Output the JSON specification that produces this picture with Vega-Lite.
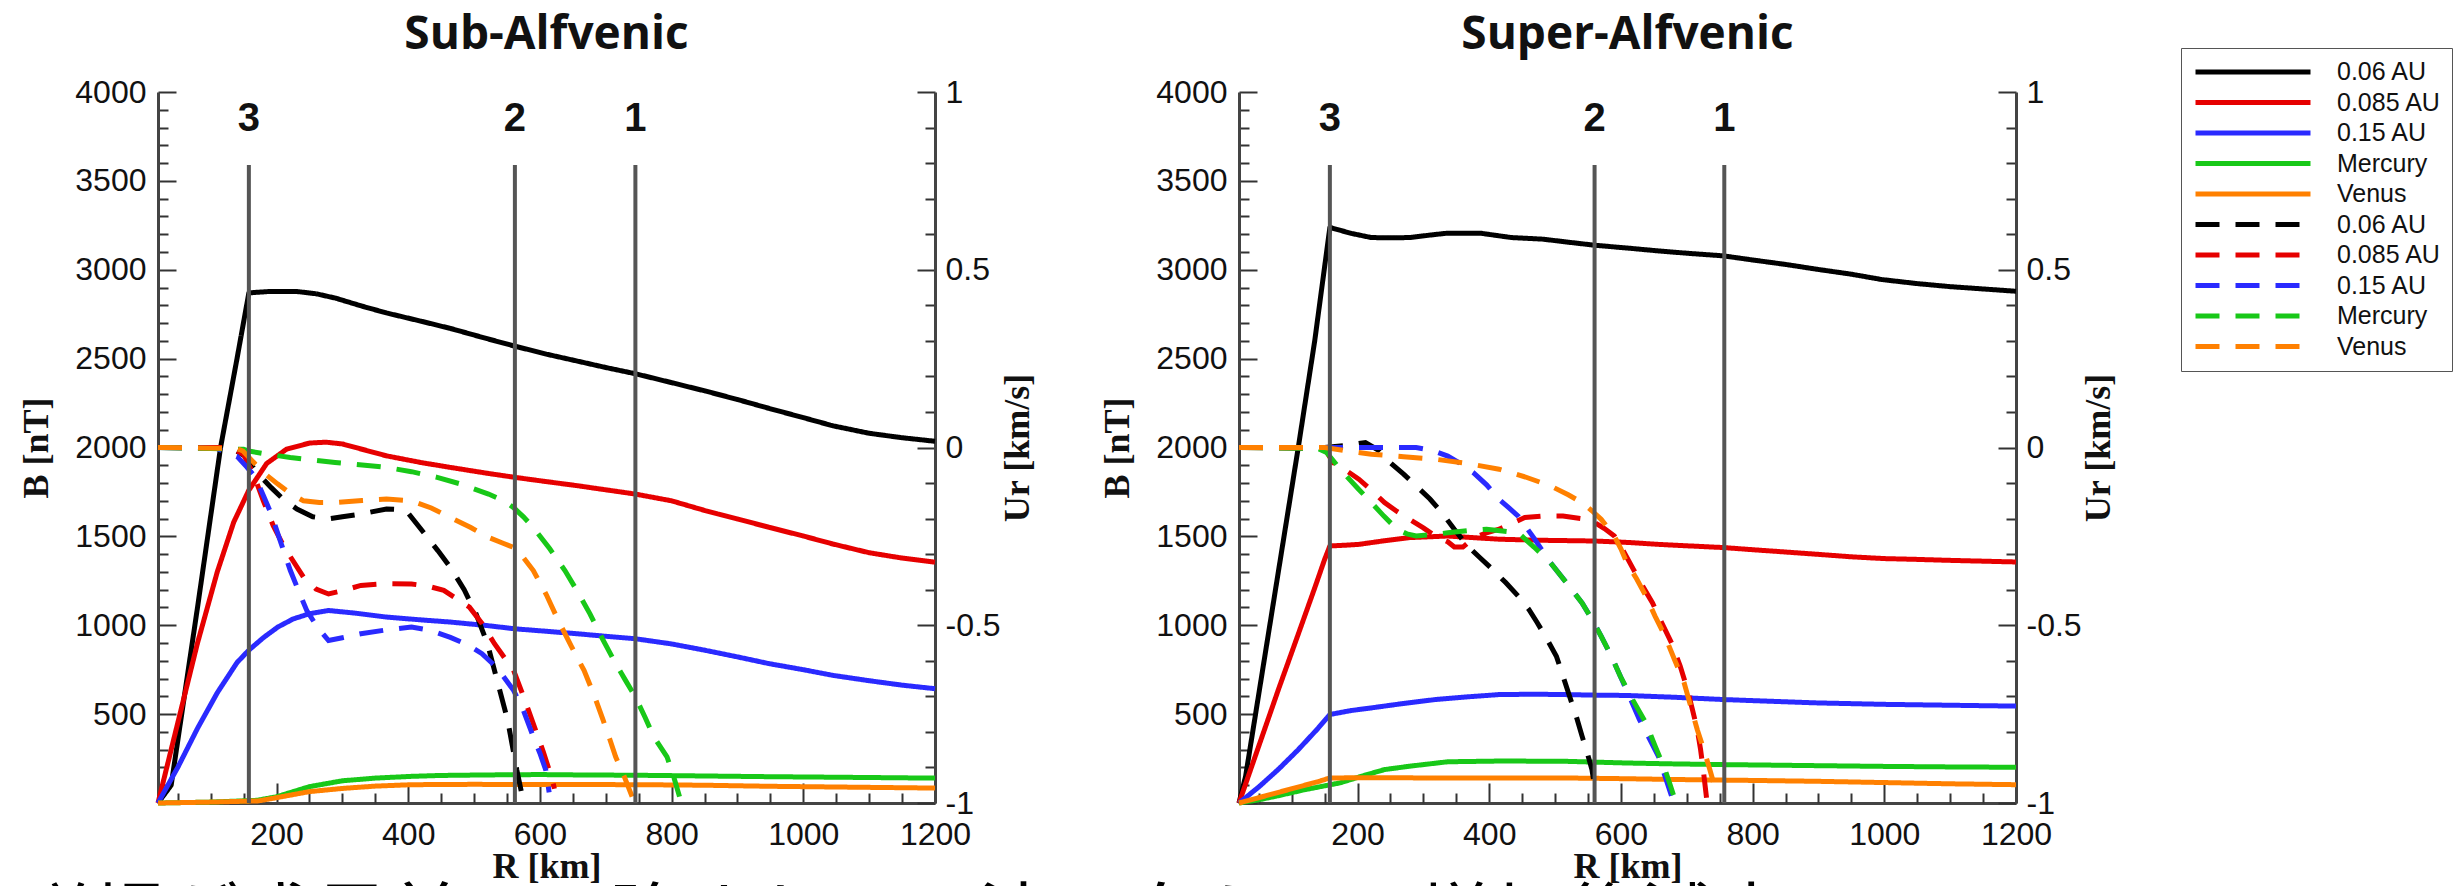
{
  "$schema": "https://vega.github.io/schema/vega-lite/v6.json",
  "background": "white",
  "padding": {"left": 18, "top": 12, "right": 5, "bottom": 0},
  "config": {
    "view": {"stroke": null},
    "font": "Liberation Sans",
    "axis": {"domainColor": "#444444", "domainWidth": 3, "tickColor": "#333333", "tickWidth": 2, "labelFont": "Liberation Sans", "labelFontSize": 32, "labelColor": "#111111", "titleFont": "Liberation Serif", "titleFontSize": 36, "titleFontWeight": "bold", "titleColor": "#111111", "grid": false, "labelOverlap": false, "labelFlush": false, "labelBound": false},
    "title": {"font": "Open Sans", "fontSize": 46, "fontWeight": "bold", "color": "#111111"}
  },
  "title": {"text": "磁場が惑星前面で強まり、下流に向かって増加後減少", "orient": "bottom", "anchor": "start", "frame": "bounds", "font": "Noto Sans CJK JP", "fontSize": 74, "fontWeight": "normal", "baseline": "top", "offset": 2, "color": "#000000"},
  "datasets": {
    "sub": [
      {"s":"B: 0.06 AU","R":20,"v":0},{"s":"B: 0.06 AU","R":40,"v":100},{"s":"B: 0.06 AU","R":80,"v":1100},{"s":"B: 0.06 AU","R":115,"v":2000},{"s":"B: 0.06 AU","R":140,"v":2500},{"s":"B: 0.06 AU","R":158,"v":2870},{"s":"B: 0.06 AU","R":190,"v":2878},{"s":"B: 0.06 AU","R":230,"v":2878},{"s":"B: 0.06 AU","R":260,"v":2865},{"s":"B: 0.06 AU","R":290,"v":2840},{"s":"B: 0.06 AU","R":330,"v":2795},{"s":"B: 0.06 AU","R":367,"v":2757},{"s":"B: 0.06 AU","R":420,"v":2710},{"s":"B: 0.06 AU","R":464,"v":2670},{"s":"B: 0.06 AU","R":520,"v":2612},{"s":"B: 0.06 AU","R":562,"v":2570},{"s":"B: 0.06 AU","R":610,"v":2525},{"s":"B: 0.06 AU","R":657,"v":2486},{"s":"B: 0.06 AU","R":700,"v":2450},{"s":"B: 0.06 AU","R":745,"v":2415},{"s":"B: 0.06 AU","R":800,"v":2365},{"s":"B: 0.06 AU","R":851,"v":2318},{"s":"B: 0.06 AU","R":900,"v":2270},{"s":"B: 0.06 AU","R":948,"v":2220},{"s":"B: 0.06 AU","R":1000,"v":2168},{"s":"B: 0.06 AU","R":1045,"v":2122},{"s":"B: 0.06 AU","R":1100,"v":2080},{"s":"B: 0.06 AU","R":1150,"v":2055},{"s":"B: 0.06 AU","R":1200,"v":2035},
      {"s":"B: 0.085 AU","R":20,"v":0},{"s":"B: 0.085 AU","R":50,"v":450},{"s":"B: 0.085 AU","R":80,"v":900},{"s":"B: 0.085 AU","R":110,"v":1300},{"s":"B: 0.085 AU","R":135,"v":1580},{"s":"B: 0.085 AU","R":158,"v":1760},{"s":"B: 0.085 AU","R":185,"v":1910},{"s":"B: 0.085 AU","R":215,"v":1990},{"s":"B: 0.085 AU","R":250,"v":2025},{"s":"B: 0.085 AU","R":275,"v":2030},{"s":"B: 0.085 AU","R":300,"v":2020},{"s":"B: 0.085 AU","R":340,"v":1980},{"s":"B: 0.085 AU","R":367,"v":1953},{"s":"B: 0.085 AU","R":420,"v":1915},{"s":"B: 0.085 AU","R":464,"v":1888},{"s":"B: 0.085 AU","R":520,"v":1855},{"s":"B: 0.085 AU","R":562,"v":1832},{"s":"B: 0.085 AU","R":610,"v":1808},{"s":"B: 0.085 AU","R":657,"v":1785},{"s":"B: 0.085 AU","R":700,"v":1762},{"s":"B: 0.085 AU","R":745,"v":1738},{"s":"B: 0.085 AU","R":800,"v":1700},{"s":"B: 0.085 AU","R":851,"v":1645},{"s":"B: 0.085 AU","R":900,"v":1598},{"s":"B: 0.085 AU","R":948,"v":1551},{"s":"B: 0.085 AU","R":1000,"v":1502},{"s":"B: 0.085 AU","R":1045,"v":1457},{"s":"B: 0.085 AU","R":1100,"v":1408},{"s":"B: 0.085 AU","R":1150,"v":1378},{"s":"B: 0.085 AU","R":1200,"v":1355},
      {"s":"B: 0.15 AU","R":20,"v":0},{"s":"B: 0.15 AU","R":50,"v":200},{"s":"B: 0.15 AU","R":80,"v":420},{"s":"B: 0.15 AU","R":110,"v":620},{"s":"B: 0.15 AU","R":140,"v":790},{"s":"B: 0.15 AU","R":158,"v":860},{"s":"B: 0.15 AU","R":180,"v":930},{"s":"B: 0.15 AU","R":202,"v":990},{"s":"B: 0.15 AU","R":225,"v":1035},{"s":"B: 0.15 AU","R":250,"v":1065},{"s":"B: 0.15 AU","R":279,"v":1083},{"s":"B: 0.15 AU","R":320,"v":1068},{"s":"B: 0.15 AU","R":367,"v":1046},{"s":"B: 0.15 AU","R":420,"v":1030},{"s":"B: 0.15 AU","R":464,"v":1018},{"s":"B: 0.15 AU","R":520,"v":998},{"s":"B: 0.15 AU","R":562,"v":980},{"s":"B: 0.15 AU","R":610,"v":966},{"s":"B: 0.15 AU","R":657,"v":952},{"s":"B: 0.15 AU","R":700,"v":938},{"s":"B: 0.15 AU","R":745,"v":924},{"s":"B: 0.15 AU","R":800,"v":895},{"s":"B: 0.15 AU","R":851,"v":859},{"s":"B: 0.15 AU","R":900,"v":822},{"s":"B: 0.15 AU","R":948,"v":784},{"s":"B: 0.15 AU","R":1000,"v":750},{"s":"B: 0.15 AU","R":1045,"v":718},{"s":"B: 0.15 AU","R":1100,"v":688},{"s":"B: 0.15 AU","R":1150,"v":663},{"s":"B: 0.15 AU","R":1200,"v":643},
      {"s":"B: Mercury","R":20,"v":0},{"s":"B: Mercury","R":100,"v":5},{"s":"B: Mercury","R":170,"v":15},{"s":"B: Mercury","R":200,"v":35},{"s":"B: Mercury","R":250,"v":92},{"s":"B: Mercury","R":300,"v":125},{"s":"B: Mercury","R":350,"v":140},{"s":"B: Mercury","R":405,"v":150},{"s":"B: Mercury","R":450,"v":155},{"s":"B: Mercury","R":522,"v":158},{"s":"B: Mercury","R":600,"v":160},{"s":"B: Mercury","R":657,"v":158},{"s":"B: Mercury","R":750,"v":156},{"s":"B: Mercury","R":851,"v":152},{"s":"B: Mercury","R":950,"v":148},{"s":"B: Mercury","R":1050,"v":145},{"s":"B: Mercury","R":1200,"v":140},
      {"s":"B: Venus","R":20,"v":0},{"s":"B: Venus","R":100,"v":5},{"s":"B: Venus","R":173,"v":12},{"s":"B: Venus","R":200,"v":30},{"s":"B: Venus","R":250,"v":64},{"s":"B: Venus","R":300,"v":82},{"s":"B: Venus","R":350,"v":95},{"s":"B: Venus","R":405,"v":103},{"s":"B: Venus","R":500,"v":105},{"s":"B: Venus","R":560,"v":104},{"s":"B: Venus","R":650,"v":104},{"s":"B: Venus","R":754,"v":103},{"s":"B: Venus","R":850,"v":100},{"s":"B: Venus","R":948,"v":94},{"s":"B: Venus","R":1050,"v":90},{"s":"B: Venus","R":1200,"v":84},
      {"s":"Ur: 0.06 AU","R":20,"v":0},{"s":"Ur: 0.06 AU","R":130,"v":0},{"s":"Ur: 0.06 AU","R":153,"v":-0.025},{"s":"Ur: 0.06 AU","R":170,"v":-0.07},{"s":"Ur: 0.06 AU","R":192,"v":-0.113},{"s":"Ur: 0.06 AU","R":210,"v":-0.145},{"s":"Ur: 0.06 AU","R":231,"v":-0.173},{"s":"Ur: 0.06 AU","R":255,"v":-0.195},{"s":"Ur: 0.06 AU","R":279,"v":-0.201},{"s":"Ur: 0.06 AU","R":300,"v":-0.195},{"s":"Ur: 0.06 AU","R":328,"v":-0.187},{"s":"Ur: 0.06 AU","R":367,"v":-0.173},{"s":"Ur: 0.06 AU","R":390,"v":-0.175},{"s":"Ur: 0.06 AU","R":401,"v":-0.187},{"s":"Ur: 0.06 AU","R":425,"v":-0.243},{"s":"Ur: 0.06 AU","R":445,"v":-0.29},{"s":"Ur: 0.06 AU","R":464,"v":-0.337},{"s":"Ur: 0.06 AU","R":485,"v":-0.4},{"s":"Ur: 0.06 AU","R":503,"v":-0.468},{"s":"Ur: 0.06 AU","R":520,"v":-0.55},{"s":"Ur: 0.06 AU","R":531,"v":-0.627},{"s":"Ur: 0.06 AU","R":551,"v":-0.767},{"s":"Ur: 0.06 AU","R":565,"v":-0.908},{"s":"Ur: 0.06 AU","R":572,"v":-0.97},
      {"s":"Ur: 0.085 AU","R":20,"v":0},{"s":"Ur: 0.085 AU","R":130,"v":0},{"s":"Ur: 0.085 AU","R":150,"v":-0.02},{"s":"Ur: 0.085 AU","R":165,"v":-0.075},{"s":"Ur: 0.085 AU","R":180,"v":-0.15},{"s":"Ur: 0.085 AU","R":195,"v":-0.22},{"s":"Ur: 0.085 AU","R":212,"v":-0.281},{"s":"Ur: 0.085 AU","R":241,"v":-0.365},{"s":"Ur: 0.085 AU","R":260,"v":-0.398},{"s":"Ur: 0.085 AU","R":279,"v":-0.412},{"s":"Ur: 0.085 AU","R":300,"v":-0.403},{"s":"Ur: 0.085 AU","R":328,"v":-0.388},{"s":"Ur: 0.085 AU","R":367,"v":-0.383},{"s":"Ur: 0.085 AU","R":405,"v":-0.384},{"s":"Ur: 0.085 AU","R":430,"v":-0.39},{"s":"Ur: 0.085 AU","R":454,"v":-0.402},{"s":"Ur: 0.085 AU","R":493,"v":-0.449},{"s":"Ur: 0.085 AU","R":512,"v":-0.495},{"s":"Ur: 0.085 AU","R":531,"v":-0.552},{"s":"Ur: 0.085 AU","R":560,"v":-0.627},{"s":"Ur: 0.085 AU","R":575,"v":-0.7},{"s":"Ur: 0.085 AU","R":590,"v":-0.777},{"s":"Ur: 0.085 AU","R":605,"v":-0.855},{"s":"Ur: 0.085 AU","R":619,"v":-0.936},{"s":"Ur: 0.085 AU","R":622,"v":-0.96},
      {"s":"Ur: 0.15 AU","R":20,"v":0},{"s":"Ur: 0.15 AU","R":110,"v":-0.003},{"s":"Ur: 0.15 AU","R":140,"v":-0.025},{"s":"Ur: 0.15 AU","R":155,"v":-0.055},{"s":"Ur: 0.15 AU","R":168,"v":-0.084},{"s":"Ur: 0.15 AU","R":180,"v":-0.135},{"s":"Ur: 0.15 AU","R":192,"v":-0.187},{"s":"Ur: 0.15 AU","R":207,"v":-0.27},{"s":"Ur: 0.15 AU","R":221,"v":-0.346},{"s":"Ur: 0.15 AU","R":235,"v":-0.41},{"s":"Ur: 0.15 AU","R":246,"v":-0.459},{"s":"Ur: 0.15 AU","R":262,"v":-0.505},{"s":"Ur: 0.15 AU","R":279,"v":-0.543},{"s":"Ur: 0.15 AU","R":300,"v":-0.535},{"s":"Ur: 0.15 AU","R":328,"v":-0.524},{"s":"Ur: 0.15 AU","R":367,"v":-0.513},{"s":"Ur: 0.15 AU","R":405,"v":-0.505},{"s":"Ur: 0.15 AU","R":435,"v":-0.515},{"s":"Ur: 0.15 AU","R":464,"v":-0.534},{"s":"Ur: 0.15 AU","R":490,"v":-0.555},{"s":"Ur: 0.15 AU","R":512,"v":-0.58},{"s":"Ur: 0.15 AU","R":535,"v":-0.62},{"s":"Ur: 0.15 AU","R":560,"v":-0.683},{"s":"Ur: 0.15 AU","R":575,"v":-0.74},{"s":"Ur: 0.15 AU","R":590,"v":-0.814},{"s":"Ur: 0.15 AU","R":600,"v":-0.86},{"s":"Ur: 0.15 AU","R":609,"v":-0.908},{"s":"Ur: 0.15 AU","R":614,"v":-0.97},
      {"s":"Ur: Mercury","R":20,"v":0},{"s":"Ur: Mercury","R":150,"v":-0.005},{"s":"Ur: Mercury","R":158,"v":-0.01},{"s":"Ur: Mercury","R":190,"v":-0.02},{"s":"Ur: Mercury","R":221,"v":-0.028},{"s":"Ur: Mercury","R":260,"v":-0.036},{"s":"Ur: Mercury","R":289,"v":-0.042},{"s":"Ur: Mercury","R":330,"v":-0.049},{"s":"Ur: Mercury","R":367,"v":-0.056},{"s":"Ur: Mercury","R":405,"v":-0.068},{"s":"Ur: Mercury","R":444,"v":-0.084},{"s":"Ur: Mercury","R":480,"v":-0.103},{"s":"Ur: Mercury","R":522,"v":-0.131},{"s":"Ur: Mercury","R":545,"v":-0.15},{"s":"Ur: Mercury","R":560,"v":-0.169},{"s":"Ur: Mercury","R":575,"v":-0.195},{"s":"Ur: Mercury","R":590,"v":-0.225},{"s":"Ur: Mercury","R":615,"v":-0.285},{"s":"Ur: Mercury","R":638,"v":-0.346},{"s":"Ur: Mercury","R":657,"v":-0.405},{"s":"Ur: Mercury","R":676,"v":-0.468},{"s":"Ur: Mercury","R":695,"v":-0.538},{"s":"Ur: Mercury","R":715,"v":-0.608},{"s":"Ur: Mercury","R":730,"v":-0.655},{"s":"Ur: Mercury","R":745,"v":-0.702},{"s":"Ur: Mercury","R":760,"v":-0.76},{"s":"Ur: Mercury","R":773,"v":-0.814},{"s":"Ur: Mercury","R":793,"v":-0.87},{"s":"Ur: Mercury","R":803,"v":-0.925},{"s":"Ur: Mercury","R":812,"v":-0.982},
      {"s":"Ur: Venus","R":20,"v":0},{"s":"Ur: Venus","R":140,"v":-0.003},{"s":"Ur: Venus","R":149,"v":-0.01},{"s":"Ur: Venus","R":168,"v":-0.047},{"s":"Ur: Venus","R":185,"v":-0.078},{"s":"Ur: Venus","R":202,"v":-0.103},{"s":"Ur: Venus","R":220,"v":-0.128},{"s":"Ur: Venus","R":241,"v":-0.15},{"s":"Ur: Venus","R":265,"v":-0.155},{"s":"Ur: Venus","R":289,"v":-0.155},{"s":"Ur: Venus","R":330,"v":-0.149},{"s":"Ur: Venus","R":367,"v":-0.145},{"s":"Ur: Venus","R":405,"v":-0.15},{"s":"Ur: Venus","R":435,"v":-0.17},{"s":"Ur: Venus","R":464,"v":-0.197},{"s":"Ur: Venus","R":495,"v":-0.225},{"s":"Ur: Venus","R":522,"v":-0.253},{"s":"Ur: Venus","R":545,"v":-0.27},{"s":"Ur: Venus","R":560,"v":-0.281},{"s":"Ur: Venus","R":575,"v":-0.31},{"s":"Ur: Venus","R":590,"v":-0.346},{"s":"Ur: Venus","R":610,"v":-0.415},{"s":"Ur: Venus","R":628,"v":-0.487},{"s":"Ur: Venus","R":648,"v":-0.56},{"s":"Ur: Venus","R":667,"v":-0.627},{"s":"Ur: Venus","R":682,"v":-0.695},{"s":"Ur: Venus","R":696,"v":-0.767},{"s":"Ur: Venus","R":706,"v":-0.82},{"s":"Ur: Venus","R":715,"v":-0.87},{"s":"Ur: Venus","R":728,"v":-0.925},{"s":"Ur: Venus","R":740,"v":-0.982}
    ],
    "super": [
      {"s":"B: 0.06 AU","R":20,"v":0},{"s":"B: 0.06 AU","R":30,"v":150},{"s":"B: 0.06 AU","R":110,"v":2000},{"s":"B: 0.06 AU","R":135,"v":2600},{"s":"B: 0.06 AU","R":158,"v":3238},{"s":"B: 0.06 AU","R":190,"v":3205},{"s":"B: 0.06 AU","R":221,"v":3181},{"s":"B: 0.06 AU","R":250,"v":3180},{"s":"B: 0.06 AU","R":279,"v":3181},{"s":"B: 0.06 AU","R":310,"v":3195},{"s":"B: 0.06 AU","R":337,"v":3206},{"s":"B: 0.06 AU","R":386,"v":3206},{"s":"B: 0.06 AU","R":434,"v":3181},{"s":"B: 0.06 AU","R":482,"v":3172},{"s":"B: 0.06 AU","R":520,"v":3155},{"s":"B: 0.06 AU","R":560,"v":3138},{"s":"B: 0.06 AU","R":610,"v":3122},{"s":"B: 0.06 AU","R":657,"v":3106},{"s":"B: 0.06 AU","R":700,"v":3093},{"s":"B: 0.06 AU","R":756,"v":3078},{"s":"B: 0.06 AU","R":800,"v":3055},{"s":"B: 0.06 AU","R":850,"v":3030},{"s":"B: 0.06 AU","R":899,"v":3002},{"s":"B: 0.06 AU","R":950,"v":2975},{"s":"B: 0.06 AU","R":996,"v":2945},{"s":"B: 0.06 AU","R":1050,"v":2922},{"s":"B: 0.06 AU","R":1100,"v":2905},{"s":"B: 0.06 AU","R":1150,"v":2892},{"s":"B: 0.06 AU","R":1200,"v":2879},
      {"s":"B: 0.085 AU","R":20,"v":0},{"s":"B: 0.085 AU","R":50,"v":320},{"s":"B: 0.085 AU","R":80,"v":640},{"s":"B: 0.085 AU","R":110,"v":950},{"s":"B: 0.085 AU","R":135,"v":1210},{"s":"B: 0.085 AU","R":150,"v":1370},{"s":"B: 0.085 AU","R":158,"v":1446},{"s":"B: 0.085 AU","R":180,"v":1450},{"s":"B: 0.085 AU","R":202,"v":1455},{"s":"B: 0.085 AU","R":240,"v":1475},{"s":"B: 0.085 AU","R":279,"v":1493},{"s":"B: 0.085 AU","R":337,"v":1502},{"s":"B: 0.085 AU","R":415,"v":1484},{"s":"B: 0.085 AU","R":480,"v":1478},{"s":"B: 0.085 AU","R":560,"v":1474},{"s":"B: 0.085 AU","R":610,"v":1466},{"s":"B: 0.085 AU","R":657,"v":1455},{"s":"B: 0.085 AU","R":700,"v":1447},{"s":"B: 0.085 AU","R":756,"v":1437},{"s":"B: 0.085 AU","R":800,"v":1425},{"s":"B: 0.085 AU","R":850,"v":1412},{"s":"B: 0.085 AU","R":899,"v":1399},{"s":"B: 0.085 AU","R":950,"v":1385},{"s":"B: 0.085 AU","R":1000,"v":1375},{"s":"B: 0.085 AU","R":1045,"v":1371},{"s":"B: 0.085 AU","R":1100,"v":1365},{"s":"B: 0.085 AU","R":1200,"v":1356},
      {"s":"B: 0.15 AU","R":20,"v":0},{"s":"B: 0.15 AU","R":50,"v":90},{"s":"B: 0.15 AU","R":80,"v":190},{"s":"B: 0.15 AU","R":110,"v":300},{"s":"B: 0.15 AU","R":140,"v":420},{"s":"B: 0.15 AU","R":158,"v":498},{"s":"B: 0.15 AU","R":190,"v":520},{"s":"B: 0.15 AU","R":221,"v":535},{"s":"B: 0.15 AU","R":270,"v":560},{"s":"B: 0.15 AU","R":318,"v":582},{"s":"B: 0.15 AU","R":370,"v":598},{"s":"B: 0.15 AU","R":415,"v":610},{"s":"B: 0.15 AU","R":470,"v":612},{"s":"B: 0.15 AU","R":512,"v":610},{"s":"B: 0.15 AU","R":560,"v":607},{"s":"B: 0.15 AU","R":609,"v":605},{"s":"B: 0.15 AU","R":680,"v":595},{"s":"B: 0.15 AU","R":756,"v":582},{"s":"B: 0.15 AU","R":830,"v":572},{"s":"B: 0.15 AU","R":899,"v":563},{"s":"B: 0.15 AU","R":1000,"v":555},{"s":"B: 0.15 AU","R":1100,"v":550},{"s":"B: 0.15 AU","R":1200,"v":545},
      {"s":"B: Mercury","R":20,"v":0},{"s":"B: Mercury","R":50,"v":18},{"s":"B: Mercury","R":76,"v":38},{"s":"B: Mercury","R":120,"v":75},{"s":"B: Mercury","R":173,"v":113},{"s":"B: Mercury","R":210,"v":155},{"s":"B: Mercury","R":241,"v":188},{"s":"B: Mercury","R":279,"v":207},{"s":"B: Mercury","R":337,"v":232},{"s":"B: Mercury","R":415,"v":236},{"s":"B: Mercury","R":512,"v":235},{"s":"B: Mercury","R":609,"v":225},{"s":"B: Mercury","R":680,"v":220},{"s":"B: Mercury","R":756,"v":216},{"s":"B: Mercury","R":830,"v":213},{"s":"B: Mercury","R":899,"v":210},{"s":"B: Mercury","R":1000,"v":206},{"s":"B: Mercury","R":1100,"v":203},{"s":"B: Mercury","R":1200,"v":201},
      {"s":"B: Venus","R":20,"v":0},{"s":"B: Venus","R":60,"v":40},{"s":"B: Venus","R":100,"v":80},{"s":"B: Venus","R":140,"v":120},{"s":"B: Venus","R":158,"v":141},{"s":"B: Venus","R":220,"v":142},{"s":"B: Venus","R":318,"v":141},{"s":"B: Venus","R":420,"v":140},{"s":"B: Venus","R":512,"v":141},{"s":"B: Venus","R":600,"v":137},{"s":"B: Venus","R":706,"v":131},{"s":"B: Venus","R":800,"v":127},{"s":"B: Venus","R":899,"v":122},{"s":"B: Venus","R":1000,"v":115},{"s":"B: Venus","R":1100,"v":108},{"s":"B: Venus","R":1200,"v":103},
      {"s":"Ur: 0.06 AU","R":20,"v":0},{"s":"Ur: 0.06 AU","R":150,"v":0},{"s":"Ur: 0.06 AU","R":180,"v":0.005},{"s":"Ur: 0.06 AU","R":212,"v":0.014},{"s":"Ur: 0.06 AU","R":232,"v":-0.008},{"s":"Ur: 0.06 AU","R":250,"v":-0.043},{"s":"Ur: 0.06 AU","R":270,"v":-0.075},{"s":"Ur: 0.06 AU","R":289,"v":-0.108},{"s":"Ur: 0.06 AU","R":310,"v":-0.145},{"s":"Ur: 0.06 AU","R":328,"v":-0.183},{"s":"Ur: 0.06 AU","R":347,"v":-0.23},{"s":"Ur: 0.06 AU","R":367,"v":-0.277},{"s":"Ur: 0.06 AU","R":386,"v":-0.31},{"s":"Ur: 0.06 AU","R":405,"v":-0.343},{"s":"Ur: 0.06 AU","R":425,"v":-0.38},{"s":"Ur: 0.06 AU","R":444,"v":-0.418},{"s":"Ur: 0.06 AU","R":460,"v":-0.455},{"s":"Ur: 0.06 AU","R":473,"v":-0.493},{"s":"Ur: 0.06 AU","R":488,"v":-0.54},{"s":"Ur: 0.06 AU","R":502,"v":-0.587},{"s":"Ur: 0.06 AU","R":512,"v":-0.643},{"s":"Ur: 0.06 AU","R":522,"v":-0.7},{"s":"Ur: 0.06 AU","R":532,"v":-0.755},{"s":"Ur: 0.06 AU","R":541,"v":-0.812},{"s":"Ur: 0.06 AU","R":549,"v":-0.86},{"s":"Ur: 0.06 AU","R":556,"v":-0.906},{"s":"Ur: 0.06 AU","R":560,"v":-0.953},
      {"s":"Ur: 0.085 AU","R":20,"v":0},{"s":"Ur: 0.085 AU","R":150,"v":-0.003},{"s":"Ur: 0.085 AU","R":163,"v":-0.043},{"s":"Ur: 0.085 AU","R":183,"v":-0.065},{"s":"Ur: 0.085 AU","R":202,"v":-0.089},{"s":"Ur: 0.085 AU","R":221,"v":-0.12},{"s":"Ur: 0.085 AU","R":241,"v":-0.155},{"s":"Ur: 0.085 AU","R":260,"v":-0.18},{"s":"Ur: 0.085 AU","R":279,"v":-0.202},{"s":"Ur: 0.085 AU","R":300,"v":-0.226},{"s":"Ur: 0.085 AU","R":318,"v":-0.249},{"s":"Ur: 0.085 AU","R":337,"v":-0.265},{"s":"Ur: 0.085 AU","R":347,"v":-0.28},{"s":"Ur: 0.085 AU","R":360,"v":-0.28},{"s":"Ur: 0.085 AU","R":376,"v":-0.255},{"s":"Ur: 0.085 AU","R":396,"v":-0.24},{"s":"Ur: 0.085 AU","R":415,"v":-0.23},{"s":"Ur: 0.085 AU","R":435,"v":-0.213},{"s":"Ur: 0.085 AU","R":454,"v":-0.197},{"s":"Ur: 0.085 AU","R":480,"v":-0.193},{"s":"Ur: 0.085 AU","R":512,"v":-0.193},{"s":"Ur: 0.085 AU","R":540,"v":-0.2},{"s":"Ur: 0.085 AU","R":560,"v":-0.211},{"s":"Ur: 0.085 AU","R":575,"v":-0.228},{"s":"Ur: 0.085 AU","R":590,"v":-0.249},{"s":"Ur: 0.085 AU","R":605,"v":-0.295},{"s":"Ur: 0.085 AU","R":619,"v":-0.343},{"s":"Ur: 0.085 AU","R":633,"v":-0.39},{"s":"Ur: 0.085 AU","R":648,"v":-0.437},{"s":"Ur: 0.085 AU","R":662,"v":-0.493},{"s":"Ur: 0.085 AU","R":677,"v":-0.55},{"s":"Ur: 0.085 AU","R":690,"v":-0.615},{"s":"Ur: 0.085 AU","R":701,"v":-0.681},{"s":"Ur: 0.085 AU","R":709,"v":-0.74},{"s":"Ur: 0.085 AU","R":716,"v":-0.794},{"s":"Ur: 0.085 AU","R":721,"v":-0.85},{"s":"Ur: 0.085 AU","R":725,"v":-0.906},{"s":"Ur: 0.085 AU","R":730,"v":-0.985},
      {"s":"Ur: 0.15 AU","R":20,"v":0},{"s":"Ur: 0.15 AU","R":250,"v":0},{"s":"Ur: 0.15 AU","R":289,"v":0},{"s":"Ur: 0.15 AU","R":313,"v":-0.008},{"s":"Ur: 0.15 AU","R":337,"v":-0.024},{"s":"Ur: 0.15 AU","R":356,"v":-0.045},{"s":"Ur: 0.15 AU","R":376,"v":-0.071},{"s":"Ur: 0.15 AU","R":396,"v":-0.105},{"s":"Ur: 0.15 AU","R":415,"v":-0.146},{"s":"Ur: 0.15 AU","R":430,"v":-0.17},{"s":"Ur: 0.15 AU","R":444,"v":-0.193},{"s":"Ur: 0.15 AU","R":468,"v":-0.255},{"s":"Ur: 0.15 AU","R":493,"v":-0.324},{"s":"Ur: 0.15 AU","R":517,"v":-0.38},{"s":"Ur: 0.15 AU","R":541,"v":-0.437},{"s":"Ur: 0.15 AU","R":556,"v":-0.483},{"s":"Ur: 0.15 AU","R":570,"v":-0.531},{"s":"Ur: 0.15 AU","R":585,"v":-0.585},{"s":"Ur: 0.15 AU","R":599,"v":-0.643},{"s":"Ur: 0.15 AU","R":614,"v":-0.705},{"s":"Ur: 0.15 AU","R":628,"v":-0.765},{"s":"Ur: 0.15 AU","R":643,"v":-0.818},{"s":"Ur: 0.15 AU","R":657,"v":-0.869},{"s":"Ur: 0.15 AU","R":667,"v":-0.925},{"s":"Ur: 0.15 AU","R":677,"v":-0.981},
      {"s":"Ur: Mercury","R":20,"v":0},{"s":"Ur: Mercury","R":140,"v":-0.003},{"s":"Ur: Mercury","R":153,"v":-0.014},{"s":"Ur: Mercury","R":168,"v":-0.048},{"s":"Ur: Mercury","R":183,"v":-0.08},{"s":"Ur: Mercury","R":202,"v":-0.118},{"s":"Ur: Mercury","R":221,"v":-0.155},{"s":"Ur: Mercury","R":240,"v":-0.193},{"s":"Ur: Mercury","R":260,"v":-0.23},{"s":"Ur: Mercury","R":275,"v":-0.243},{"s":"Ur: Mercury","R":289,"v":-0.249},{"s":"Ur: Mercury","R":313,"v":-0.245},{"s":"Ur: Mercury","R":337,"v":-0.24},{"s":"Ur: Mercury","R":366,"v":-0.234},{"s":"Ur: Mercury","R":396,"v":-0.23},{"s":"Ur: Mercury","R":420,"v":-0.235},{"s":"Ur: Mercury","R":444,"v":-0.24},{"s":"Ur: Mercury","R":468,"v":-0.28},{"s":"Ur: Mercury","R":493,"v":-0.324},{"s":"Ur: Mercury","R":517,"v":-0.38},{"s":"Ur: Mercury","R":541,"v":-0.437},{"s":"Ur: Mercury","R":556,"v":-0.483},{"s":"Ur: Mercury","R":570,"v":-0.531},{"s":"Ur: Mercury","R":585,"v":-0.585},{"s":"Ur: Mercury","R":599,"v":-0.643},{"s":"Ur: Mercury","R":618,"v":-0.71},{"s":"Ur: Mercury","R":638,"v":-0.775},{"s":"Ur: Mercury","R":652,"v":-0.84},{"s":"Ur: Mercury","R":667,"v":-0.906},{"s":"Ur: Mercury","R":675,"v":-0.95},{"s":"Ur: Mercury","R":682,"v":-0.99},
      {"s":"Ur: Venus","R":20,"v":0},{"s":"Ur: Venus","R":150,"v":0},{"s":"Ur: Venus","R":185,"v":-0.01},{"s":"Ur: Venus","R":221,"v":-0.019},{"s":"Ur: Venus","R":270,"v":-0.026},{"s":"Ur: Venus","R":318,"v":-0.033},{"s":"Ur: Venus","R":367,"v":-0.045},{"s":"Ur: Venus","R":415,"v":-0.061},{"s":"Ur: Venus","R":455,"v":-0.083},{"s":"Ur: Venus","R":493,"v":-0.108},{"s":"Ur: Venus","R":520,"v":-0.133},{"s":"Ur: Venus","R":541,"v":-0.155},{"s":"Ur: Venus","R":556,"v":-0.178},{"s":"Ur: Venus","R":570,"v":-0.202},{"s":"Ur: Venus","R":580,"v":-0.225},{"s":"Ur: Venus","R":590,"v":-0.249},{"s":"Ur: Venus","R":600,"v":-0.285},{"s":"Ur: Venus","R":609,"v":-0.324},{"s":"Ur: Venus","R":624,"v":-0.37},{"s":"Ur: Venus","R":638,"v":-0.418},{"s":"Ur: Venus","R":652,"v":-0.475},{"s":"Ur: Venus","R":667,"v":-0.531},{"s":"Ur: Venus","R":681,"v":-0.595},{"s":"Ur: Venus","R":696,"v":-0.662},{"s":"Ur: Venus","R":706,"v":-0.728},{"s":"Ur: Venus","R":716,"v":-0.794},{"s":"Ur: Venus","R":726,"v":-0.85},{"s":"Ur: Venus","R":735,"v":-0.906},{"s":"Ur: Venus","R":741,"v":-0.945},{"s":"Ur: Venus","R":745,"v":-0.981}
    ],
    "subMarks": [{"label":"3","R":158},{"label":"2","R":562},{"label":"1","R":745}],
    "superMarks": [{"label":"3","R":158},{"label":"2","R":560},{"label":"1","R":757}]
  },
  "spacing": 63,
  "resolve": {"scale": {"color": "shared", "strokeDash": "shared"}},
  "hconcat": [
    {
      "title": {"text": "Sub-Alfvenic", "baseline": "alphabetic", "offset": -19, "frame": "group"},
      "width": 777, "height": 711,
      "layer": [
        {
          "data": {"name": "sub"},
          "transform": [{"filter": "indexof(datum.s, 'B:') === 0"}],
          "mark": {"type": "line", "strokeWidth": 5, "strokeJoin": "round"},
          "encoding": {
            "x": {"field": "R", "type": "quantitative", "scale": {"domain": [20, 1200], "nice": false, "zero": false},
              "axis": {"title": "R [km]", "orient": "bottom", "labelOverlap": false, "values": [200,400,600,800,1000,1200], "format": "d", "tickSize": -20, "labelPadding": 36, "titlePadding": -1}},
            "y": {"field": "v", "type": "quantitative", "scale": {"domain": [0, 4000], "nice": false, "zero": false},
              "axis": {"title": "B [nT]", "orient": "left", "labelOverlap": false, "values": [0,100,200,300,400,500,600,700,800,900,1000,1100,1200,1300,1400,1500,1600,1700,1800,1900,2000,2100,2200,2300,2400,2500,2600,2700,2800,2900,3000,3100,3200,3300,3400,3500,3600,3700,3800,3900,4000], "tickSize": {"condition": {"test": "datum.value % 500 === 0", "value": -18}, "value": -10}, "labelExpr": "datum.value % 500 === 0 && datum.value > 0 ? '' + datum.value : ''", "labelPadding": {"condition": {"test": "datum.value % 500 === 0", "value": 30}, "value": 22}, "titlePadding": 19}},
            "color": {"field": "s", "type": "nominal", "scale": {"domain": ["B: 0.06 AU","B: 0.085 AU","B: 0.15 AU","B: Mercury","B: Venus","Ur: 0.06 AU","Ur: 0.085 AU","Ur: 0.15 AU","Ur: Mercury","Ur: Venus"], "range": ["#000000","#e60000","#2a2aff","#18c818","#ff8000","#000000","#e60000","#2a2aff","#18c818","#ff8000"]},
              "legend": {"title": null, "orient": "none", "legendX": 2023, "legendY": -44, "symbolType": "stroke", "symbolSize": 13225, "symbolStrokeWidth": 5, "clipHeight": 28, "rowPadding": 2.5, "labelFont": "Liberation Sans", "labelFontSize": 25, "labelColor": "#111111", "labelOffset": 24, "labelLimit": 300, "labelExpr": "split(datum.label, ': ')[1]", "padding": 10, "symbolOffset": 2, "strokeColor": "#555555", "fillColor": "white"}},
            "strokeDash": {"field": "s", "type": "nominal", "scale": {"domain": ["B: 0.06 AU","B: 0.085 AU","B: 0.15 AU","B: Mercury","B: Venus","Ur: 0.06 AU","Ur: 0.085 AU","Ur: 0.15 AU","Ur: Mercury","Ur: Venus"], "range": [[1,0],[1,0],[1,0],[1,0],[1,0],[24,16],[24,16],[24,16],[24,16],[24,16]]},
              "legend": {"title": null, "orient": "none", "legendX": 2023, "legendY": -44, "symbolType": "stroke", "symbolSize": 13225, "symbolStrokeWidth": 5, "clipHeight": 28, "rowPadding": 2.5, "labelFont": "Liberation Sans", "labelFontSize": 25, "labelColor": "#111111", "labelOffset": 24, "labelLimit": 300, "labelExpr": "split(datum.label, ': ')[1]", "padding": 10, "symbolOffset": 2, "strokeColor": "#555555", "fillColor": "white"}}
          }
        },
        {
          "data": {"name": "sub"},
          "transform": [{"filter": "indexof(datum.s, 'Ur:') === 0"}],
          "mark": {"type": "line", "strokeWidth": 5},
          "encoding": {
            "x": {"field": "R", "type": "quantitative", "axis": null},
            "y": {"field": "v", "type": "quantitative", "scale": {"domain": [-1, 1], "nice": false, "zero": false},
              "axis": {"title": "Ur [km/s]", "orient": "right", "labelOverlap": false, "values": [-1,-0.9,-0.8,-0.7,-0.6,-0.5,-0.4,-0.3,-0.2,-0.1,0,0.1,0.2,0.3,0.4,0.5,0.6,0.7,0.8,0.9,1], "tickSize": {"condition": {"test": "abs(datum.value*2 - round(datum.value*2)) < 0.001", "value": -18}, "value": -10}, "labelExpr": "abs(datum.value*2 - round(datum.value*2)) < 0.001 ? '' + datum.value : ''", "labelPadding": {"condition": {"test": "abs(datum.value*2 - round(datum.value*2)) < 0.001", "value": 28}, "value": 20}, "titleAngle": 270, "titleBaseline": "top", "titlePadding": 0}},
            "color": {"field": "s", "type": "nominal"},
            "strokeDash": {"field": "s", "type": "nominal"}
          }
        },
        {
          "data": {"name": "subMarks"},
          "layer": [
            {"mark": {"type": "rule", "color": "#555555", "strokeWidth": 4},
             "encoding": {"x": {"field": "R", "type": "quantitative", "axis": {"orient": "bottom", "title": null, "labels": false, "domain": false, "values": [50,100,150,250,300,350,450,500,550,650,700,750,850,900,950,1050,1100,1150], "tickSize": -10}}, "y": {"datum": 0, "type": "quantitative", "scale": {"domain": [0, 4000], "nice": false, "zero": false}, "axis": null}, "y2": {"datum": 3590}}},
            {"mark": {"type": "text", "font": "Liberation Sans", "fontSize": 40, "fontWeight": "bold", "baseline": "middle", "color": "#111111"},
             "encoding": {"x": {"field": "R", "type": "quantitative"}, "y": {"datum": 3850, "type": "quantitative", "axis": null}, "text": {"field": "label"}}}
          ]
        }
      ],
      "resolve": {"scale": {"y": "independent"}, "axis": {"x": "independent"}}
    },
    {
      "title": {"text": "Super-Alfvenic", "baseline": "alphabetic", "offset": -19, "frame": "group"},
      "width": 777, "height": 711,
      "layer": [
        {
          "data": {"name": "super"},
          "transform": [{"filter": "indexof(datum.s, 'B:') === 0"}],
          "mark": {"type": "line", "strokeWidth": 5, "strokeJoin": "round"},
          "encoding": {
            "x": {"field": "R", "type": "quantitative", "scale": {"domain": [20, 1200], "nice": false, "zero": false},
              "axis": {"title": "R [km]", "orient": "bottom", "labelOverlap": false, "values": [200,400,600,800,1000,1200], "format": "d", "tickSize": -20, "labelPadding": 36, "titlePadding": -1}},
            "y": {"field": "v", "type": "quantitative", "scale": {"domain": [0, 4000], "nice": false, "zero": false},
              "axis": {"title": "B [nT]", "orient": "left", "labelOverlap": false, "values": [0,100,200,300,400,500,600,700,800,900,1000,1100,1200,1300,1400,1500,1600,1700,1800,1900,2000,2100,2200,2300,2400,2500,2600,2700,2800,2900,3000,3100,3200,3300,3400,3500,3600,3700,3800,3900,4000], "tickSize": {"condition": {"test": "datum.value % 500 === 0", "value": -18}, "value": -10}, "labelExpr": "datum.value % 500 === 0 && datum.value > 0 ? '' + datum.value : ''", "labelPadding": {"condition": {"test": "datum.value % 500 === 0", "value": 30}, "value": 22}, "titlePadding": 19}},
            "color": {"field": "s", "type": "nominal"},
            "strokeDash": {"field": "s", "type": "nominal"}
          }
        },
        {
          "data": {"name": "super"},
          "transform": [{"filter": "indexof(datum.s, 'Ur:') === 0"}],
          "mark": {"type": "line", "strokeWidth": 5},
          "encoding": {
            "x": {"field": "R", "type": "quantitative", "axis": null},
            "y": {"field": "v", "type": "quantitative", "scale": {"domain": [-1, 1], "nice": false, "zero": false},
              "axis": {"title": "Ur [km/s]", "orient": "right", "labelOverlap": false, "values": [-1,-0.9,-0.8,-0.7,-0.6,-0.5,-0.4,-0.3,-0.2,-0.1,0,0.1,0.2,0.3,0.4,0.5,0.6,0.7,0.8,0.9,1], "tickSize": {"condition": {"test": "abs(datum.value*2 - round(datum.value*2)) < 0.001", "value": -18}, "value": -10}, "labelExpr": "abs(datum.value*2 - round(datum.value*2)) < 0.001 ? '' + datum.value : ''", "labelPadding": {"condition": {"test": "abs(datum.value*2 - round(datum.value*2)) < 0.001", "value": 28}, "value": 20}, "titleAngle": 270, "titleBaseline": "top", "titlePadding": 0}},
            "color": {"field": "s", "type": "nominal"},
            "strokeDash": {"field": "s", "type": "nominal"}
          }
        },
        {
          "data": {"name": "superMarks"},
          "layer": [
            {"mark": {"type": "rule", "color": "#555555", "strokeWidth": 4},
             "encoding": {"x": {"field": "R", "type": "quantitative", "axis": {"orient": "bottom", "title": null, "labels": false, "domain": false, "values": [50,100,150,250,300,350,450,500,550,650,700,750,850,900,950,1050,1100,1150], "tickSize": -10}}, "y": {"datum": 0, "type": "quantitative", "scale": {"domain": [0, 4000], "nice": false, "zero": false}, "axis": null}, "y2": {"datum": 3590}}},
            {"mark": {"type": "text", "font": "Liberation Sans", "fontSize": 40, "fontWeight": "bold", "baseline": "middle", "color": "#111111"},
             "encoding": {"x": {"field": "R", "type": "quantitative"}, "y": {"datum": 3850, "type": "quantitative", "axis": null}, "text": {"field": "label"}}}
          ]
        }
      ],
      "resolve": {"scale": {"y": "independent"}, "axis": {"x": "independent"}}
    }
  ]
}
